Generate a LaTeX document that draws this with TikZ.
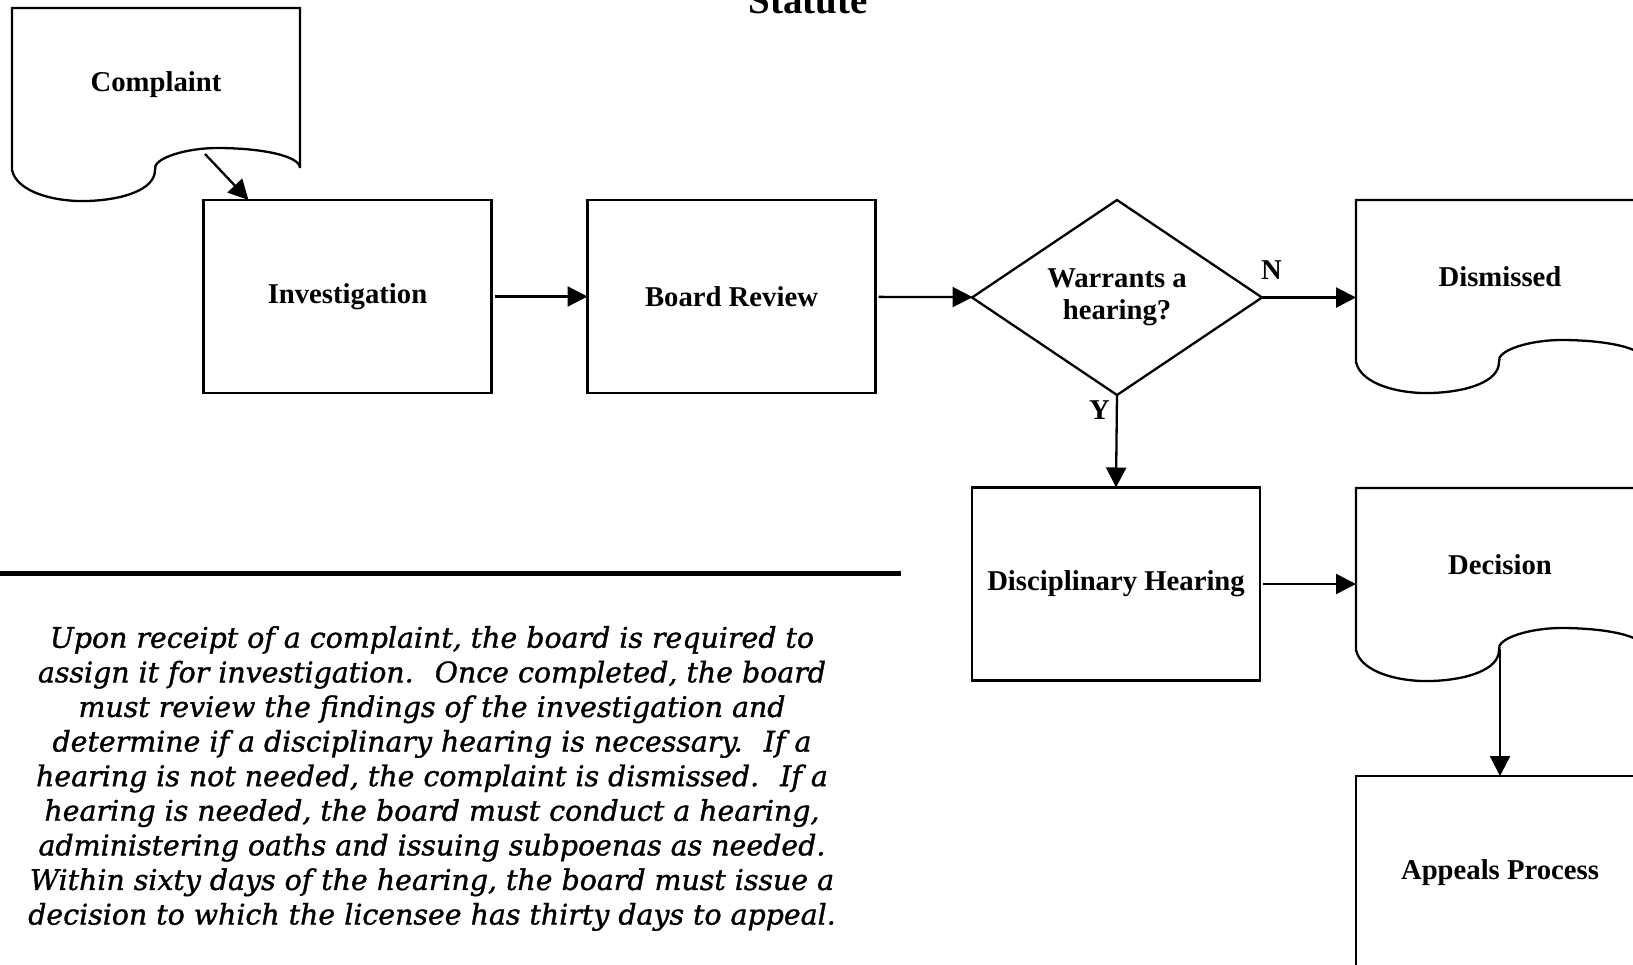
\documentclass[tikz,border=0pt]{standalone}
\usepackage{fontspec}
\setmainfont{Liberation Serif}
\newfontfamily\parafont[ItalicFeatures={FakeBold=1.2}]{DejaVu Serif}
\usetikzlibrary{shapes.geometric,arrows.meta}

\newcommand{\labelfont}{\fontsize{28.7}{32}\selectfont\bfseries}
% outline of a document shape round a node
\newcommand{\docoutline}[1]{%
  \draw (#1.north west) -- ++(0,162)
    .. controls +(5,23) and +(-30,1) .. ++(75,31)
    .. controls +(35,-1) and +(0,20) .. ++(68,-31)
    .. controls +(-3,-12) and +(-30,0) .. ++(62,-22)
    .. controls +(45,0) and +(0,-12) .. ++(83,20)
    -- (#1.north east) -- cycle;}

\begin{document}
\begin{tikzpicture}[x=1pt,y=-1pt,line width=2.3pt,
  box/.style={draw, minimum width=288pt, minimum height=193pt, inner sep=0pt, outer sep=0pt, font=\labelfont},
  doc/.style={minimum width=288pt, minimum height=154pt, inner sep=0pt, outer sep=0pt, font=\labelfont},
  query/.style={draw, diamond, aspect=1.487, minimum width=290pt, minimum height=195pt, inner sep=0pt, outer sep=0pt, align=center, font=\labelfont},
  flow/.style={-{Triangle[length=20pt,width=20pt]}}]
\useasboundingbox (0,0) rectangle (1633,964);
\clip (0,0) rectangle (1633,964);

\node[font=\fontsize{39}{44}\selectfont\bfseries, anchor=base] (title) at (808,13){Statute};

\node[doc](complaint) at (156,85){Complaint};
\docoutline{complaint}
\node[box](inv) at (347.5,296.5){Investigation};
\node[box](review) at (731.5,296.5){Board Review};
\node[query](warrant) at (1117,297.5){Warrants a\\hearing?};
\node[doc](dismissed) at (1500,277){Dismissed};
\docoutline{dismissed}
\node[box](hearing) at (1116,584){Disciplinary Hearing};
\node[doc](decision) at (1500,565){Decision};
\docoutline{decision}
\node[box](appeals) at (1500,872.5){Appeals Process};

\coordinate (complaint-tail) at ([shift={(193,146)}]complaint.north west);
\coordinate (inv-head) at ([shift={(45,0)}]inv.north west);
\coordinate (decision-tail) at ([shift={(144,161)}]decision.north west);
\coordinate (appeals-head) at (decision-tail |- appeals.north);

\draw[flow] (complaint-tail) -- (inv-head);
\draw[flow, shorten <=3pt] (inv) -- (review);
\draw[flow, shorten <=3pt] (review) -- (warrant);
\draw[flow] (warrant.east) -- (dismissed.west |- warrant.east)
  node[pos=0, anchor=south west, inner sep=0pt, xshift=-2pt, yshift=17pt, font=\labelfont]{N};
\draw[flow] (warrant.south) -- (hearing.north)
  node[pos=0, anchor=north east, inner sep=0pt, xshift=-6pt, yshift=-5pt, font=\labelfont]{Y};
\draw[flow, shorten <=3pt] (hearing) -- (hearing -| decision.west);
\draw[flow] (decision-tail) -- (appeals-head);

\draw[line width=5pt] (0,573) -- (901,573);

\node[font={\parafont\itshape\fontsize{28.4}{34.6}\selectfont}, align=center, anchor=north, inner sep=0pt] (summary) at (432,625){%
Upon receipt of a complaint, the board is required to\\
assign it for investigation.~ Once completed, the board\\
must review the findings of the investigation and\\
determine if a disciplinary hearing is necessary.~ If a\\
hearing is not needed, the complaint is dismissed.~ If a\\
hearing is needed, the board must conduct a hearing,\\
administering oaths and issuing subpoenas as needed.\\
Within sixty days of the hearing, the board must issue a\\
decision to which the licensee has thirty days to appeal.};
\end{tikzpicture}
\end{document}
